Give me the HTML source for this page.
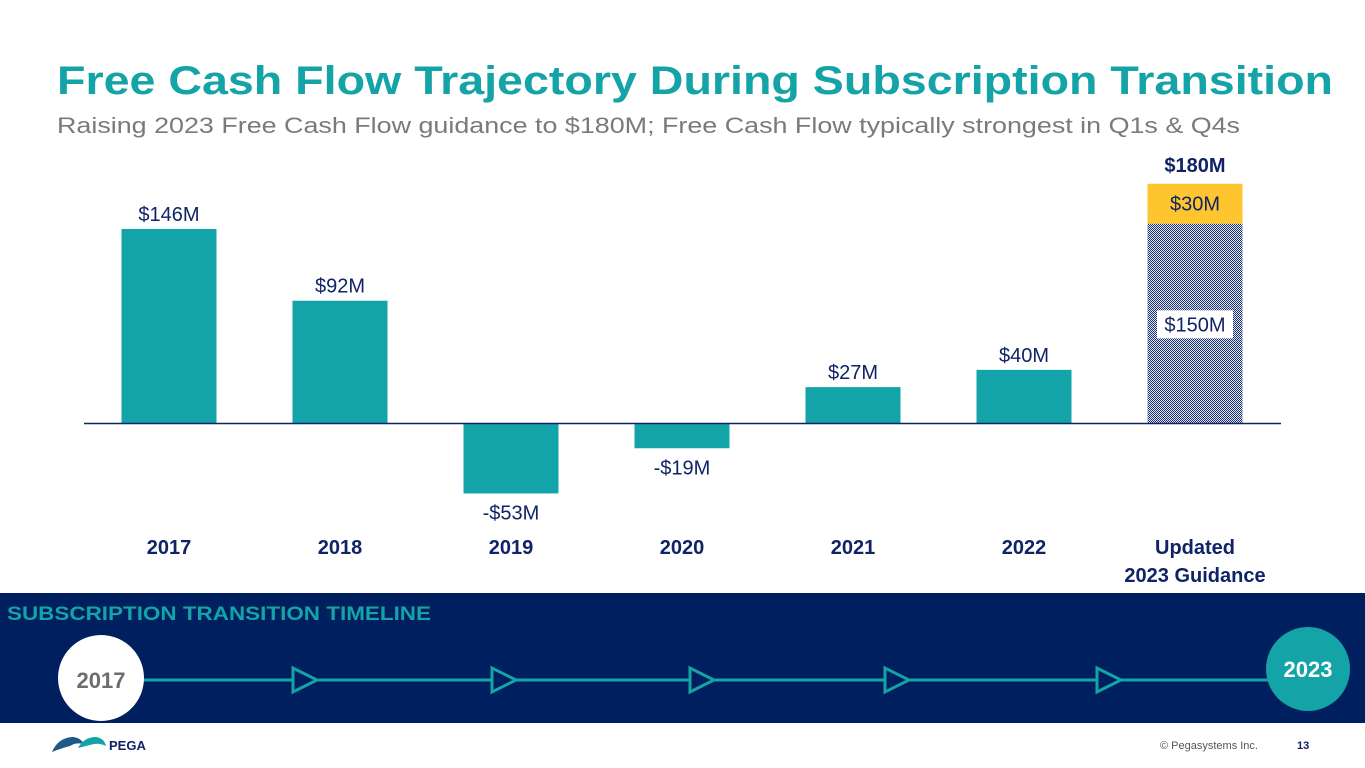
<!DOCTYPE html>
<html><head><meta charset="utf-8"><style>
html,body{margin:0;padding:0;background:#fff;width:1365px;height:768px;overflow:hidden}
svg{display:block;font-family:"Liberation Sans",sans-serif}
</style></head><body>
<svg id="chart" width="1365" height="768" viewBox="0 0 1365 768">
<defs>
<pattern id="chk" width="2" height="2" patternUnits="userSpaceOnUse">
<rect width="2" height="2" fill="#dfe4ef"/><rect width="1" height="1" fill="#1c3170"/><rect x="1" y="1" width="1" height="1" fill="#1c3170"/>
</pattern>
</defs>
<text x="57" y="94" font-size="40" font-weight="bold" fill="#14a3a6" textLength="1276" lengthAdjust="spacingAndGlyphs">Free Cash Flow Trajectory During Subscription Transition</text>
<text x="57" y="133" font-size="22" fill="#7a7a7a" textLength="1183" lengthAdjust="spacingAndGlyphs">Raising 2023 Free Cash Flow guidance to $180M; Free Cash Flow typically strongest in Q1s &amp; Q4s</text>
<g id="bars"></g>
<line x1="84" y1="423.5" x2="1281" y2="423.5" stroke="#0f2366" stroke-width="1.5"/>
<rect x="0" y="593" width="1365" height="130" fill="#001f5f"/>
<text x="7" y="620" font-size="19" font-weight="bold" fill="#14a3a6" textLength="424" lengthAdjust="spacingAndGlyphs">SUBSCRIPTION TRANSITION TIMELINE</text>
<line x1="140" y1="680" x2="1270" y2="680" stroke="#14a3a6" stroke-width="3"/>
<g id="arrows" fill="#001f5f" stroke="#14a3a6" stroke-width="3"></g>
<circle cx="101" cy="678" r="43" fill="#fff"/>
<text x="101" y="688" font-size="22" font-weight="bold" fill="#6d6d6d" text-anchor="middle">2017</text>
<circle cx="1308" cy="669" r="42" fill="#14a3a6"/>
<text x="1308" y="677" font-size="22" font-weight="bold" fill="#fff" text-anchor="middle">2023</text>
<g>
<path d="M52 752 Q58 738 72 737 Q80 737 84 744 Q76 742 70 746 Q62 748 52 752Z" fill="#1d5a8a"/>
<path d="M78 748 Q84 737 96 737 Q104 738 106 746 Q98 742 90 745 Z" fill="#14a3a6"/>
<text x="109" y="750" font-size="13" font-weight="bold" fill="#0f2366">PEGA</text>
</g>
<text x="1160" y="749" font-size="11" fill="#555">© Pegasystems Inc.</text>
<text x="1297" y="749" font-size="11" font-weight="bold" fill="#0f2366">13</text>
</svg>
<script>
const categories = ["2017","2018","2019","2020","2021","2022","Updated|2023 Guidance"];
const values = [146, 92, -53, -19, 27, 40, 150];
const valueLabels = ["$146M","$92M","-$53M","-$19M","$27M","$40M","$150M"];
const guidanceIncrease = [30];
const guidanceIncreaseLabel = ["$30M"];
const guidanceTotalLabel = ["$180M"];
const arrowYears = [1,2,3,4,5];

const NS = "http://www.w3.org/2000/svg";
const zeroY = 423, pxPerM = 1.329;
const y = v => zeroY - v * pxPerM;
const xc = i => 169 + i * 171;
const bw = 95;
const g = document.getElementById("bars");
function mk(tag, attrs, parent){const e=document.createElementNS(NS,tag);for(const k in attrs)e.setAttribute(k,attrs[k]);parent.appendChild(e);return e;}
values.forEach((v,i)=>{
  const last = i === values.length-1;
  const top = Math.min(y(v), zeroY), h = Math.abs(y(v)-zeroY);
  const r = mk("rect",{x:xc(i)-bw/2,y:top,width:bw,height:h,fill:last?"url(#chk)":"#12a4a8"},g);
  
  
  let t;
  if(last){
    const ly = y(v/2)+8;
    const bg = mk("rect",{x:xc(i)-38,y:ly-21,width:76,height:28,fill:"#fff"},g);
    
    
    t = mk("text",{x:xc(i),y:ly,"font-size":20,fill:"#0f2366","text-anchor":"middle"},g);
  } else {
    const ly = v>=0 ? y(v)-8 : y(v)+26;
    t = mk("text",{x:xc(i),y:ly,"font-size":20,fill:"#0f2366","text-anchor":"middle"},g);
  }
  t.textContent = valueLabels[i];
  
  
  const parts = categories[i].split('|');
  parts.forEach((p,j)=>{
    const c = mk("text",{x:xc(i),y:554+j*28,"font-size":20,"font-weight":"bold",fill:"#0f2366","text-anchor":"middle"},g);
    c.textContent = p;
    
    
  });
});
const li = values.length-1, base = values[li], tot = base + guidanceIncrease[0];
const inc = mk("rect",{x:xc(li)-bw/2,y:y(tot),width:bw,height:y(base)-y(tot),fill:"#fec52e"},g);


const it = mk("text",{x:xc(li),y:(y(tot)+y(base))/2+7,"font-size":20,fill:"#0f2366","text-anchor":"middle"},g);
it.textContent = guidanceIncreaseLabel[0];


const tt = mk("text",{x:xc(li),y:y(tot)-12,"font-size":20,"font-weight":"bold",fill:"#0f2366","text-anchor":"middle"},g);
tt.textContent = guidanceTotalLabel[0];


const ag = document.getElementById("arrows");
const ax = [293, 492, 690, 885, 1097];
arrowYears.forEach((a,i)=>{
  const x = ax[i];
  const p = mk("path",{d:`M${x} 668 L${x} 692 L${x+24} 680 Z`},ag);
  
  
});
</script>
</body></html>
